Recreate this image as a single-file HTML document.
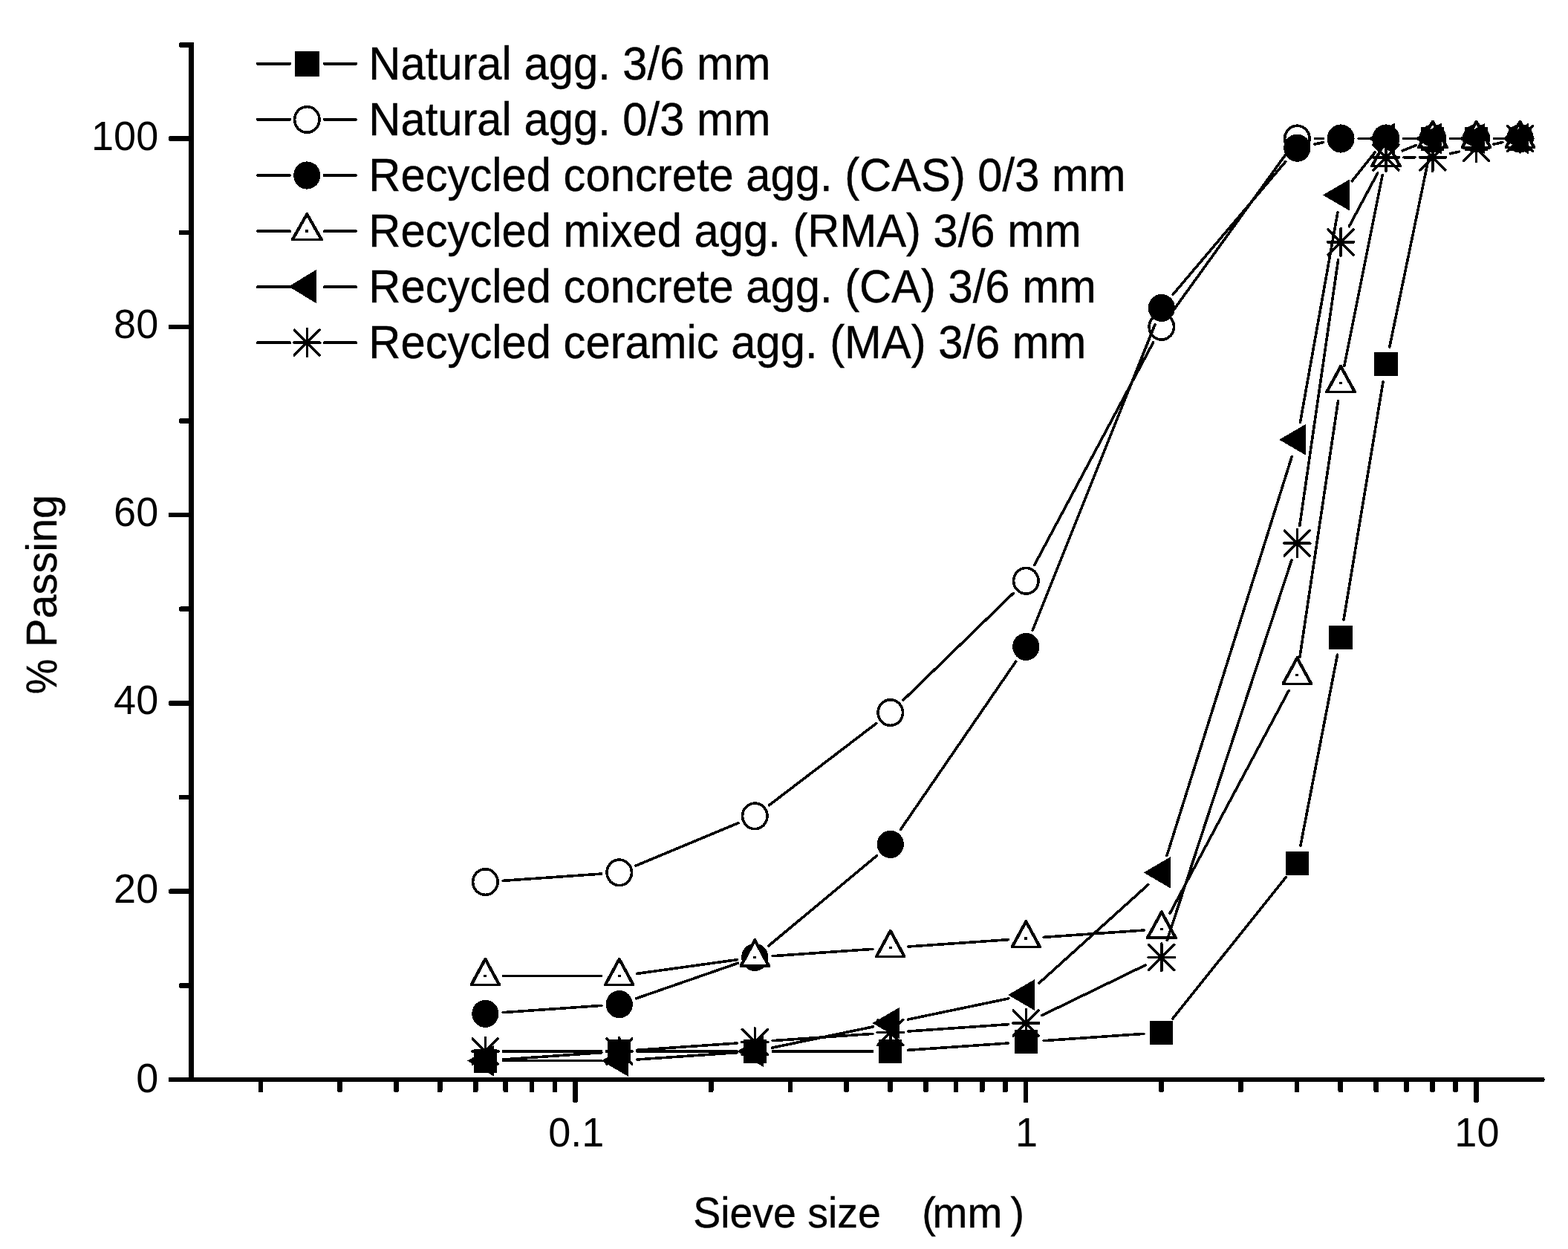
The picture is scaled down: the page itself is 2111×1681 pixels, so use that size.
<!DOCTYPE html>
<html lang="en"><head><meta charset="utf-8"><title>Sieve size distribution</title>
<style>
html,body{margin:0;padding:0;background:#fff;}
body{width:2111px;height:1681px;overflow:hidden;}
svg{display:block;shape-rendering:crispEdges;}
text{font-family:"Liberation Sans",sans-serif;fill:#000;white-space:pre;}
.tk{font-size:56.2px;}
.ti{font-size:57.8px;stroke:#000;stroke-width:0.4px;}
.lg{font-size:62.8px;}
.lg text{stroke:#000;stroke-width:0.45px;}
.ln line{stroke:#000;stroke-width:3.6;stroke-linecap:round;}
.mk{fill:#000;}
.mk .o{fill:#fff;stroke:#000;stroke-width:3.6;}
.mk .w{fill:#fff;}
.mk .s{fill:none;stroke:#000;stroke-width:3.5;stroke-linecap:round;}
</style></head><body>
<svg width="2111" height="1681" viewBox="0 0 2111 1681">
<rect width="2111" height="1681" fill="#fff"/>
<g fill="#000">
<rect x="254" y="57" width="7" height="1399"/>
<rect x="254" y="1450" width="1825.5" height="6.3" rx="2"/>
<rect x="226.8" y="1449.7" width="30" height="6.6" rx="2.5"/>
<rect x="240.8" y="1323.05" width="16" height="6.6" rx="2.5"/>
<rect x="226.8" y="1196.4" width="30" height="6.6" rx="2.5"/>
<rect x="240.8" y="1069.75" width="16" height="6.6" rx="2.5"/>
<rect x="226.8" y="943.1" width="30" height="6.6" rx="2.5"/>
<rect x="240.8" y="816.45" width="16" height="6.6" rx="2.5"/>
<rect x="226.8" y="689.8" width="30" height="6.6" rx="2.5"/>
<rect x="240.8" y="563.15" width="16" height="6.6" rx="2.5"/>
<rect x="226.8" y="436.5" width="30" height="6.6" rx="2.5"/>
<rect x="240.8" y="309.85" width="16" height="6.6" rx="2.5"/>
<rect x="226.8" y="183.2" width="30" height="6.6" rx="2.5"/>
<rect x="240.8" y="57.1" width="16" height="6.6" rx="2.5"/>
<rect x="347.51" y="1452" width="6.8" height="18.2" rx="2.6"/>
<rect x="454.28" y="1452" width="6.8" height="18.2" rx="2.6"/>
<rect x="530.03" y="1452" width="6.8" height="18.2" rx="2.6"/>
<rect x="588.79" y="1452" width="6.8" height="18.2" rx="2.6"/>
<rect x="636.79" y="1452" width="6.8" height="18.2" rx="2.6"/>
<rect x="677.38" y="1452" width="6.8" height="18.2" rx="2.6"/>
<rect x="712.54" y="1452" width="6.8" height="18.2" rx="2.6"/>
<rect x="743.56" y="1452" width="6.8" height="18.2" rx="2.6"/>
<rect x="771.3" y="1452" width="6.8" height="32.2" rx="2.6"/>
<rect x="953.81" y="1452" width="6.8" height="18.2" rx="2.6"/>
<rect x="1060.58" y="1452" width="6.8" height="18.2" rx="2.6"/>
<rect x="1136.33" y="1452" width="6.8" height="18.2" rx="2.6"/>
<rect x="1195.09" y="1452" width="6.8" height="18.2" rx="2.6"/>
<rect x="1243.09" y="1452" width="6.8" height="18.2" rx="2.6"/>
<rect x="1283.68" y="1452" width="6.8" height="18.2" rx="2.6"/>
<rect x="1318.84" y="1452" width="6.8" height="18.2" rx="2.6"/>
<rect x="1349.86" y="1452" width="6.8" height="18.2" rx="2.6"/>
<rect x="1377.6" y="1452" width="6.8" height="32.2" rx="2.6"/>
<rect x="1560.11" y="1452" width="6.8" height="18.2" rx="2.6"/>
<rect x="1666.88" y="1452" width="6.8" height="18.2" rx="2.6"/>
<rect x="1742.63" y="1452" width="6.8" height="18.2" rx="2.6"/>
<rect x="1801.39" y="1452" width="6.8" height="18.2" rx="2.6"/>
<rect x="1849.39" y="1452" width="6.8" height="18.2" rx="2.6"/>
<rect x="1889.98" y="1452" width="6.8" height="18.2" rx="2.6"/>
<rect x="1925.14" y="1452" width="6.8" height="18.2" rx="2.6"/>
<rect x="1956.16" y="1452" width="6.8" height="18.2" rx="2.6"/>
<rect x="1983.9" y="1452" width="6.8" height="32.2" rx="2.6"/>
</g>
<g class="tk">
<text transform="translate(213.2 1469.6) scale(0.962 1)" text-anchor="end">0</text>
<text transform="translate(213.2 1214.7) scale(0.962 1)" text-anchor="end">20</text>
<text transform="translate(213.2 961.4) scale(0.962 1)" text-anchor="end">40</text>
<text transform="translate(213.2 708.1) scale(0.962 1)" text-anchor="end">60</text>
<text transform="translate(213.2 454.8) scale(0.962 1)" text-anchor="end">80</text>
<text transform="translate(213.2 201.5) scale(0.962 1)" text-anchor="end">100</text>
<text transform="translate(775.8 1543) scale(0.962 1)" text-anchor="middle">0.1</text>
<text transform="translate(1382.1 1543) scale(0.962 1)" text-anchor="middle">1</text>
<text transform="translate(1988.4 1543) scale(0.962 1)" text-anchor="middle">10</text>
</g>
<g class="ti">
<text transform="translate(75.5 934.3) rotate(-90) scale(0.925 1)">%</text>
<text transform="translate(75.5 870.9) rotate(-90) scale(0.997 1)">Passing</text>
<text transform="translate(933.2 1652) scale(0.9595 1)">Sieve size</text>
<text transform="translate(1241.3 1652) scale(0.96 1)">(</text>
<text transform="translate(1255.5 1652) scale(0.975 1)">mm</text>
<text transform="translate(1360.5 1652) scale(0.96 1)">)</text>
</g>
<g class="lg">
<g class="ln"><line x1="346.6" y1="85.9" x2="390.5" y2="85.9"/><line x1="436.3" y1="85.9" x2="479.4" y2="85.9"/></g>
<g class="mk"><rect x="396.7" y="68.9" width="33.2" height="34"/></g>
<text transform="translate(496.3 107) scale(0.9514 1)">Natural agg. 3/6 mm</text>
<g class="ln"><line x1="346.6" y1="160.95" x2="390.5" y2="160.95"/><line x1="436.3" y1="160.95" x2="479.4" y2="160.95"/></g>
<g class="mk"><ellipse class="o" cx="413.3" cy="160.95" rx="16.7" ry="17.3"/></g>
<text transform="translate(496.3 182.05) scale(0.9514 1)">Natural agg. 0/3 mm</text>
<g class="ln"><line x1="346.6" y1="236" x2="390.5" y2="236"/><line x1="436.3" y1="236" x2="479.4" y2="236"/></g>
<g class="mk"><ellipse cx="413.3" cy="236" rx="18.1" ry="18.6"/></g>
<text transform="translate(496.3 257.1) scale(0.9514 1)">Recycled concrete agg. (CAS) 0/3 mm</text>
<g class="ln"><line x1="346.6" y1="311.05" x2="390.5" y2="311.05"/><line x1="436.3" y1="311.05" x2="479.4" y2="311.05"/></g>
<g class="mk"><path class="w" d="M413.3 286.05L434.9 324.25H391.7Z"/><path fill-rule="evenodd" d="M412.1 286.05H414.5L434.9 321.75V324.25H391.7V321.75ZM413.3 292.24L396.95 321.15H429.65Z"/><rect x="411.3" y="309.45" width="4" height="3.2"/></g>
<text transform="translate(496.3 332.15) scale(0.9514 1)">Recycled mixed agg. (RMA) 3/6 mm</text>
<g class="ln"><line x1="346.6" y1="386.1" x2="390.5" y2="386.1"/><line x1="436.3" y1="386.1" x2="479.4" y2="386.1"/></g>
<g class="mk"><path d="M388.7 385.6L426 362.8V408.4Z"/></g>
<text transform="translate(496.3 407.2) scale(0.9514 1)">Recycled concrete agg. (CA) 3/6 mm</text>
<g class="ln"><line x1="346.6" y1="461.15" x2="390.5" y2="461.15"/><line x1="436.3" y1="461.15" x2="479.4" y2="461.15"/></g>
<g class="mk"><path class="s" d="M395.7 461.15H430.9M413.3 442.75V479.55M396.3 444.15L430.3 478.15M396.3 478.15L430.3 444.15"/></g>
<text transform="translate(496.3 482.25) scale(0.9514 1)">Recycled ceramic agg. (MA) 3/6 mm</text>
</g>
<g class="ln">
<line x1="677.28" y1="1425.99" x2="809.82" y2="1416.69"/>
<line x1="857.76" y1="1415.01" x2="992.27" y2="1415.01"/>
<line x1="1040.27" y1="1415.01" x2="1174.79" y2="1415.01"/>
<line x1="1222.73" y1="1413.34" x2="1357.36" y2="1404"/>
<line x1="1405.24" y1="1400.68" x2="1539.87" y2="1391.34"/>
<line x1="1578.81" y1="1370.94" x2="1731.33" y2="1180.44"/>
<line x1="1750.88" y1="1138.14" x2="1800.53" y2="881.31"/>
<line x1="1809.01" y1="834.07" x2="1862.02" y2="514.14"/>
<line x1="1870.8" y1="466.96" x2="1923.98" y2="210"/>
<line x1="1952.84" y1="186.5" x2="1963.6" y2="186.5"/>
<line x1="2011.6" y1="186.5" x2="2022.36" y2="186.5"/>
</g><g class="mk">
<rect x="637.74" y="1411.67" width="31.2" height="32"/>
<rect x="818.16" y="1399.01" width="31.2" height="32"/>
<rect x="1000.67" y="1399.01" width="31.2" height="32"/>
<rect x="1183.19" y="1399.01" width="31.2" height="32"/>
<rect x="1365.7" y="1386.34" width="31.2" height="32"/>
<rect x="1548.21" y="1373.67" width="31.2" height="32"/>
<rect x="1730.73" y="1145.7" width="31.2" height="32"/>
<rect x="1789.49" y="841.75" width="31.2" height="32"/>
<rect x="1850.34" y="474.46" width="31.2" height="32"/>
<rect x="1913.24" y="170.5" width="31.2" height="32"/>
<rect x="1972" y="170.5" width="31.2" height="32"/>
<rect x="2030.76" y="170.5" width="31.2" height="32"/>
</g>
<g class="ln">
<line x1="677.28" y1="1185.35" x2="809.82" y2="1176.05"/>
<line x1="855.91" y1="1165.15" x2="994.11" y2="1107.6"/>
<line x1="1035.35" y1="1083.82" x2="1179.71" y2="973.63"/>
<line x1="1216" y1="942.34" x2="1364.09" y2="798.48"/>
<line x1="1392.6" y1="760.58" x2="1552.51" y2="460.97"/>
<line x1="1577.84" y1="420.33" x2="1732.3" y2="205.97"/>
<line x1="1770.33" y1="186.5" x2="1781.09" y2="186.5"/>
<line x1="1829.09" y1="186.5" x2="1841.94" y2="186.5"/>
<line x1="1889.94" y1="186.5" x2="1904.84" y2="186.5"/>
<line x1="1952.84" y1="186.5" x2="1963.6" y2="186.5"/>
<line x1="2011.6" y1="186.5" x2="2022.36" y2="186.5"/>
</g><g class="mk">
<ellipse class="o" cx="653.34" cy="1187.04" rx="16.7" ry="17.3"/>
<ellipse class="o" cx="833.76" cy="1174.37" rx="16.7" ry="17.3"/>
<ellipse class="o" cx="1016.27" cy="1098.38" rx="16.7" ry="17.3"/>
<ellipse class="o" cx="1198.79" cy="959.07" rx="16.7" ry="17.3"/>
<ellipse class="o" cx="1381.3" cy="781.75" rx="16.7" ry="17.3"/>
<ellipse class="o" cx="1563.81" cy="439.8" rx="16.7" ry="17.3"/>
<ellipse class="o" cx="1746.33" cy="186.5" rx="16.7" ry="17.3"/>
<ellipse class="o" cx="1805.09" cy="186.5" rx="16.7" ry="17.3"/>
<ellipse class="o" cx="1865.94" cy="186.5" rx="16.7" ry="17.3"/>
<ellipse class="o" cx="1928.84" cy="186.5" rx="16.7" ry="17.3"/>
<ellipse class="o" cx="1987.6" cy="186.5" rx="16.7" ry="17.3"/>
<ellipse class="o" cx="2046.36" cy="186.5" rx="16.7" ry="17.3"/>
</g>
<g class="ln">
<line x1="677.28" y1="1362.66" x2="809.82" y2="1353.36"/>
<line x1="856.43" y1="1343.81" x2="993.6" y2="1296.22"/>
<line x1="1034.71" y1="1273" x2="1180.34" y2="1151.73"/>
<line x1="1212.37" y1="1116.59" x2="1367.72" y2="890.2"/>
<line x1="1390.22" y1="848.13" x2="1554.9" y2="436.75"/>
<line x1="1579.33" y1="396.16" x2="1730.81" y2="217.47"/>
<line x1="1769.79" y1="194.11" x2="1781.62" y2="191.56"/>
<line x1="1829.09" y1="186.5" x2="1841.94" y2="186.5"/>
<line x1="1889.94" y1="186.5" x2="1904.84" y2="186.5"/>
<line x1="1952.84" y1="186.5" x2="1963.6" y2="186.5"/>
<line x1="2011.6" y1="186.5" x2="2022.36" y2="186.5"/>
</g><g class="mk">
<ellipse cx="653.34" cy="1364.35" rx="18.1" ry="18.6"/>
<ellipse cx="833.76" cy="1351.68" rx="18.1" ry="18.6"/>
<ellipse cx="1016.27" cy="1288.36" rx="18.1" ry="18.6"/>
<ellipse cx="1198.79" cy="1136.38" rx="18.1" ry="18.6"/>
<ellipse cx="1381.3" cy="870.41" rx="18.1" ry="18.6"/>
<ellipse cx="1563.81" cy="414.47" rx="18.1" ry="18.6"/>
<ellipse cx="1746.33" cy="199.17" rx="18.1" ry="18.6"/>
<ellipse cx="1805.09" cy="186.5" rx="18.1" ry="18.6"/>
<ellipse cx="1865.94" cy="186.5" rx="18.1" ry="18.6"/>
<ellipse cx="1928.84" cy="186.5" rx="18.1" ry="18.6"/>
<ellipse cx="1987.6" cy="186.5" rx="18.1" ry="18.6"/>
<ellipse cx="2046.36" cy="186.5" rx="18.1" ry="18.6"/>
</g>
<g class="ln">
<line x1="677.34" y1="1313.68" x2="809.76" y2="1313.68"/>
<line x1="857.53" y1="1310.39" x2="992.5" y2="1291.65"/>
<line x1="1040.21" y1="1286.69" x2="1174.84" y2="1277.35"/>
<line x1="1222.73" y1="1274.03" x2="1357.36" y2="1264.69"/>
<line x1="1405.24" y1="1261.36" x2="1539.87" y2="1252.02"/>
<line x1="1575.12" y1="1229.19" x2="1735.03" y2="929.58"/>
<line x1="1749.88" y1="884.67" x2="1801.53" y2="539.53"/>
<line x1="1809.8" y1="492.26" x2="1861.23" y2="235.36"/>
<line x1="1888.2" y1="202.87" x2="1906.58" y2="195.46"/>
<line x1="1952.84" y1="186.5" x2="1963.6" y2="186.5"/>
<line x1="2011.6" y1="186.5" x2="2022.36" y2="186.5"/>
</g><g class="mk">
<path class="w" d="M653.34 1288.68L674.04 1326.88H632.64Z"/><path fill-rule="evenodd" d="M652.14 1288.68H654.54L674.04 1324.38V1326.88H632.64V1324.38ZM653.34 1295.14L637.82 1323.79H668.86Z"/><rect x="651.34" y="1312.09" width="4" height="3.2"/>
<path class="w" d="M833.76 1288.68L854.46 1326.88H813.06Z"/><path fill-rule="evenodd" d="M832.56 1288.68H834.96L854.46 1324.38V1326.88H813.06V1324.38ZM833.76 1295.14L818.24 1323.79H849.28Z"/><rect x="831.76" y="1312.09" width="4" height="3.2"/>
<path class="w" d="M1016.27 1263.36L1036.97 1301.56H995.57Z"/><path fill-rule="evenodd" d="M1015.07 1263.36H1017.47L1036.97 1299.06V1301.56H995.57V1299.06ZM1016.27 1269.81L1000.75 1298.46H1031.79Z"/><rect x="1014.27" y="1286.76" width="4" height="3.2"/>
<path class="w" d="M1198.79 1250.69L1219.49 1288.89H1178.09Z"/><path fill-rule="evenodd" d="M1197.59 1250.69H1199.99L1219.49 1286.39V1288.89H1178.09V1286.39ZM1198.79 1257.15L1183.27 1285.79H1214.31Z"/><rect x="1196.79" y="1274.09" width="4" height="3.2"/>
<path class="w" d="M1381.3 1238.03L1402 1276.23H1360.6Z"/><path fill-rule="evenodd" d="M1380.1 1238.03H1382.5L1402 1273.73V1276.23H1360.6V1273.73ZM1381.3 1244.48L1365.78 1273.13H1396.82Z"/><rect x="1379.3" y="1261.43" width="4" height="3.2"/>
<path class="w" d="M1563.81 1225.36L1584.51 1263.56H1543.11Z"/><path fill-rule="evenodd" d="M1562.61 1225.36H1565.01L1584.51 1261.06V1263.56H1543.11V1261.06ZM1563.81 1231.82L1548.29 1260.46H1579.33Z"/><rect x="1561.81" y="1248.76" width="4" height="3.2"/>
<path class="w" d="M1746.33 883.41L1767.03 921.61H1725.63Z"/><path fill-rule="evenodd" d="M1745.13 883.41H1747.53L1767.03 919.11V921.61H1725.63V919.11ZM1746.33 889.86L1730.81 918.51H1761.85Z"/><rect x="1744.33" y="906.81" width="4" height="3.2"/>
<path class="w" d="M1805.09 490.79L1825.79 528.99H1784.39Z"/><path fill-rule="evenodd" d="M1803.89 490.79H1806.29L1825.79 526.49V528.99H1784.39V526.49ZM1805.09 497.25L1789.57 525.89H1820.61Z"/><rect x="1803.09" y="514.19" width="4" height="3.2"/>
<path class="w" d="M1865.94 186.83L1886.64 225.03H1845.24Z"/><path fill-rule="evenodd" d="M1864.74 186.83H1867.14L1886.64 222.53V225.03H1845.24V222.53ZM1865.94 193.29L1850.42 221.93H1881.46Z"/><rect x="1863.94" y="210.23" width="4" height="3.2"/>
<path class="w" d="M1928.84 161.5L1949.54 199.7H1908.14Z"/><path fill-rule="evenodd" d="M1927.64 161.5H1930.04L1949.54 197.2V199.7H1908.14V197.2ZM1928.84 167.96L1913.32 196.6H1944.36Z"/><rect x="1926.84" y="184.9" width="4" height="3.2"/>
<path class="w" d="M1987.6 161.5L2008.3 199.7H1966.9Z"/><path fill-rule="evenodd" d="M1986.4 161.5H1988.8L2008.3 197.2V199.7H1966.9V197.2ZM1987.6 167.96L1972.08 196.6H2003.12Z"/><rect x="1985.6" y="184.9" width="4" height="3.2"/>
<path class="w" d="M2046.36 161.5L2067.06 199.7H2025.66Z"/><path fill-rule="evenodd" d="M2045.16 161.5H2047.56L2067.06 197.2V199.7H2025.66V197.2ZM2046.36 167.96L2030.84 196.6H2061.88Z"/><rect x="2044.36" y="184.9" width="4" height="3.2"/>
</g>
<g class="ln">
<line x1="677.34" y1="1427.67" x2="809.76" y2="1427.67"/>
<line x1="857.7" y1="1426.01" x2="992.33" y2="1416.67"/>
<line x1="1039.77" y1="1410.11" x2="1175.29" y2="1381.9"/>
<line x1="1222.28" y1="1372.12" x2="1357.8" y2="1343.91"/>
<line x1="1399.12" y1="1322.94" x2="1545.99" y2="1190.45"/>
<line x1="1570.99" y1="1151.47" x2="1739.15" y2="614.68"/>
<line x1="1750.54" y1="568.15" x2="1800.87" y2="286.12"/>
<line x1="1820.09" y1="243.76" x2="1850.94" y2="205.23"/>
<line x1="1889.94" y1="186.5" x2="1904.84" y2="186.5"/>
<line x1="1952.84" y1="186.5" x2="1963.6" y2="186.5"/>
<line x1="2011.6" y1="186.5" x2="2022.36" y2="186.5"/>
</g><g class="mk">
<path d="M629.14 1427.67L665.14 1406.67V1448.67Z"/>
<path d="M809.56 1427.67L845.56 1406.67V1448.67Z"/>
<path d="M992.07 1415.01L1028.07 1394.01V1436.01Z"/>
<path d="M1174.59 1377.01L1210.59 1356.01V1398.01Z"/>
<path d="M1357.1 1339.02L1393.1 1318.02V1360.02Z"/>
<path d="M1539.61 1174.37L1575.61 1153.37V1195.37Z"/>
<path d="M1722.13 591.78L1758.13 570.78V612.78Z"/>
<path d="M1780.89 262.49L1816.89 241.49V283.49Z"/>
<path d="M1841.74 186.5L1877.74 165.5V207.5Z"/>
<path d="M1904.64 186.5L1940.64 165.5V207.5Z"/>
<path d="M1963.4 186.5L1999.4 165.5V207.5Z"/>
<path d="M2022.16 186.5L2058.16 165.5V207.5Z"/>
</g>
<g class="ln">
<line x1="677.34" y1="1415.01" x2="809.76" y2="1415.01"/>
<line x1="857.7" y1="1413.34" x2="992.33" y2="1404"/>
<line x1="1040.21" y1="1400.68" x2="1174.84" y2="1391.34"/>
<line x1="1222.73" y1="1388.01" x2="1357.36" y2="1378.67"/>
<line x1="1402.89" y1="1366.52" x2="1542.23" y2="1298.84"/>
<line x1="1571.28" y1="1265.55" x2="1738.86" y2="753.9"/>
<line x1="1749.77" y1="707.34" x2="1801.64" y2="349.57"/>
<line x1="1816.39" y1="304.64" x2="1854.64" y2="233"/>
<line x1="1889.94" y1="211.83" x2="1904.84" y2="211.83"/>
<line x1="1952.3" y1="206.77" x2="1964.14" y2="204.22"/>
<line x1="2011.06" y1="194.11" x2="2022.9" y2="191.56"/>
</g><g class="mk">
<path class="s" d="M635.74 1415.01H670.94M653.34 1396.61V1433.41M636.34 1398.01L670.34 1432.01M636.34 1432.01L670.34 1398.01"/>
<path class="s" d="M816.16 1415.01H851.36M833.76 1396.61V1433.41M816.76 1398.01L850.76 1432.01M816.76 1432.01L850.76 1398.01"/>
<path class="s" d="M998.67 1402.34H1033.87M1016.27 1383.94V1420.74M999.27 1385.34L1033.27 1419.34M999.27 1419.34L1033.27 1385.34"/>
<path class="s" d="M1181.19 1389.67H1216.39M1198.79 1371.27V1408.08M1181.79 1372.67L1215.79 1406.67M1181.79 1406.67L1215.79 1372.67"/>
<path class="s" d="M1363.7 1377.01H1398.9M1381.3 1358.61V1395.41M1364.3 1360.01L1398.3 1394.01M1364.3 1394.01L1398.3 1360.01"/>
<path class="s" d="M1546.21 1288.36H1581.41M1563.81 1269.95V1306.76M1546.81 1271.36L1580.81 1305.36M1546.81 1305.36L1580.81 1271.36"/>
<path class="s" d="M1728.73 731.1H1763.93M1746.33 712.7V749.5M1729.33 714.1L1763.33 748.1M1729.33 748.1L1763.33 714.1"/>
<path class="s" d="M1787.49 325.82H1822.69M1805.09 307.42V344.22M1788.09 308.82L1822.09 342.82M1788.09 342.82L1822.09 308.82"/>
<path class="s" d="M1848.34 211.83H1883.54M1865.94 193.43V230.23M1848.94 194.83L1882.94 228.83M1848.94 228.83L1882.94 194.83"/>
<path class="s" d="M1911.24 211.83H1946.44M1928.84 193.43V230.23M1911.84 194.83L1945.84 228.83M1911.84 228.83L1945.84 194.83"/>
<path class="s" d="M1970 199.17H2005.2M1987.6 180.77V217.57M1970.6 182.17L2004.6 216.17M1970.6 216.17L2004.6 182.17"/>
<path class="s" d="M2028.76 186.5H2063.96M2046.36 168.1V204.9M2029.36 169.5L2063.36 203.5M2029.36 203.5L2063.36 169.5"/>
</g>
</svg></body></html>
